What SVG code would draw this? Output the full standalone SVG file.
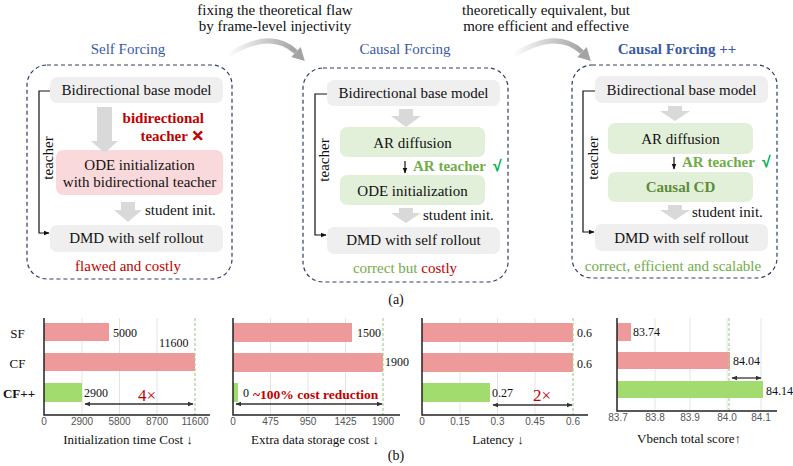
<svg xmlns="http://www.w3.org/2000/svg" width="793" height="466" viewBox="0 0 793 466" font-family="'Liberation Serif', 'Times New Roman', Times, serif">
<style>
text{fill:#111}
.t15{font-size:15px}
.mid{text-anchor:middle}
.title{font-size:15px;fill:#3b5aa5;text-anchor:middle}
.dash{fill:none;stroke:#2e3c6a;stroke-width:1.2;stroke-dasharray:4 3}
.gbox{fill:#efefef}
.grn{fill:#e2f0d9}
.pink{fill:#f9d9dc}
.red{fill:#c00000}
.gtxt{fill:#70ad47}
.chk{fill:#00b050;stroke:#00b050;stroke-width:0.6}
.blk{fill:#d9d9d9}
.tline{fill:none;stroke:#111;stroke-width:1.2}
.grid{stroke:#e4e4e4;stroke-width:1}
.axis{stroke:#222;stroke-width:1.5;fill:none}
.barp{fill:#ef9a9a}
.barg{fill:#a2dc6e}
.gd{stroke:#a9d18e;stroke-width:1.2;stroke-dasharray:3 2}
.tick{font-size:10px;fill:#555;text-anchor:middle}
.val{font-size:12px}
.ax{font-size:13px;text-anchor:middle}
.dbl{stroke:#333;stroke-width:1.3;marker-start:url(#ah);marker-end:url(#ah)}
</style>
<defs>
<marker id="ah" viewBox="0 0 10 10" refX="9" refY="5" markerWidth="6" markerHeight="6" orient="auto-start-reverse" markerUnits="userSpaceOnUse"><path d="M0,1 L10,5 L0,9 z" fill="#333"/></marker>
<marker id="ta" viewBox="0 0 10 10" refX="9" refY="5" markerWidth="6" markerHeight="6" orient="auto" markerUnits="userSpaceOnUse"><path d="M0,1 L10,5 L0,9 z" fill="#111"/></marker>
<linearGradient id="cg" x1="0" y1="0" x2="1" y2="0"><stop offset="0" stop-color="#ffffff"/><stop offset="1" stop-color="#a3a3a3"/></linearGradient>
</defs>

<!-- top captions -->
<g id="caption1"><text class="t15 mid" x="275" y="15">fixing the theoretical flaw</text><text class="t15 mid" x="275" y="31">by frame-level injectivity</text></g>
<g id="caption2"><text class="t15 mid" x="546" y="15">theoretically equivalent, but</text><text class="t15 mid" x="546" y="31">more efficient and effective</text></g>

<!-- panel 1 -->
<g id="self-forcing">
<text class="title" x="128" y="54">Self Forcing</text>
<rect class="dash" x="27" y="65" width="205" height="214" rx="20"/>
<g id="sf-base"><rect class="gbox" x="50" y="77" width="173" height="26" rx="7"/><text class="t15 mid" x="136.5" y="95">Bidirectional base model</text></g>
<text class="t15 red" x="204" y="123" text-anchor="end" font-weight="bold">bidirectional</text>
<text class="t15 red" x="204" y="141" text-anchor="end" font-weight="bold">teacher <tspan font-family="'DejaVu Sans', sans-serif" font-size="15" style="stroke:#c00000;stroke-width:0.9">✕</tspan></text>
<g id="sf-ode"><rect class="pink" x="56" y="150" width="167" height="45" rx="7"/><text class="t15 mid" x="139.5" y="170">ODE initialization</text><text class="t15 mid" x="139.5" y="187">with bidirectional teacher</text></g>
<text class="t15" x="145" y="215">student init.</text>
<g id="sf-dmd"><rect class="gbox" x="50" y="225" width="173" height="27" rx="7"/><text class="t15 mid" x="136.5" y="243">DMD with self rollout</text></g>
<text class="t15 mid red" x="128" y="271">flawed and costly</text>
<text class="t15 mid" transform="translate(53,158) rotate(-90)">teacher</text>
</g>

<!-- panel 2 -->
<g id="causal-forcing">
<text class="title" x="405" y="54">Causal Forcing</text>
<rect class="dash" x="303" y="68" width="205" height="214" rx="20"/>
<g id="cf-base"><rect class="gbox" x="327" y="80" width="173" height="26" rx="7"/><text class="t15 mid" x="413.5" y="98">Bidirectional base model</text></g>
<g id="cf-ar"><rect class="grn" x="340" y="127" width="145" height="30" rx="7"/><text class="t15 mid" x="412.5" y="148">AR diffusion</text></g>
<text class="t15 gtxt" x="413" y="171" font-weight="bold">AR teacher</text><text class="t15 chk" x="493" y="171" font-size="16">√</text>
<g id="cf-ode"><rect class="grn" x="340" y="175" width="145" height="30" rx="7"/><text class="t15 mid" x="412.5" y="196">ODE initialization</text></g>
<text class="t15" x="423" y="220">student init.</text>
<g id="cf-dmd"><rect class="gbox" x="327" y="227" width="173" height="27" rx="7"/><text class="t15 mid" x="413.5" y="245">DMD with self rollout</text></g>
<text class="t15 mid" x="405" y="273"><tspan class="gtxt">correct but </tspan><tspan class="red">costly</tspan></text>
<text class="t15 mid" transform="translate(329,160) rotate(-90)">teacher</text>
</g>

<!-- panel 3 -->
<g id="causal-forcing-pp">
<text class="title" x="677" y="54" font-weight="bold">Causal Forcing ++</text>
<rect class="dash" x="572" y="65" width="205" height="213" rx="20"/>
<g id="cfp-base"><rect class="gbox" x="595" y="76" width="173" height="27" rx="7"/><text class="t15 mid" x="681.5" y="95">Bidirectional base model</text></g>
<g id="cfp-ar"><rect class="grn" x="608" y="123" width="145" height="31" rx="7"/><text class="t15 mid" x="680.5" y="144">AR diffusion</text></g>
<text class="t15 gtxt" x="682" y="167" font-weight="bold">AR teacher</text><text class="t15 chk" x="762" y="167" font-size="16">√</text>
<g id="cfp-cd"><rect class="grn" x="608" y="172" width="145" height="30" rx="7"/><text class="t15 mid" x="680.5" y="192" font-weight="bold" style="fill:#5b8c3a">Causal CD</text></g>
<text class="t15" x="692" y="217">student init.</text>
<g id="cfp-dmd"><rect class="gbox" x="595" y="224" width="173" height="27" rx="7"/><text class="t15 mid" x="681.5" y="243">DMD with self rollout</text></g>
<text class="t15 mid gtxt" x="673" y="271">correct, efficient and scalable</text>
<text class="t15 mid" transform="translate(598,158) rotate(-90)">teacher</text>
</g>

<!-- connectors -->
<g id="connectors">
<path d="M227,56 Q270,28 296,52" fill="none" stroke="url(#cg)" stroke-width="5"/>
<polygon points="304.8,61 291.3,57.1 300.7,46.9" fill="#a3a3a3"/>
<path d="M513,56 Q556,28 582,52" fill="none" stroke="url(#cg)" stroke-width="5"/>
<polygon points="590.8,61 577.3,57.1 586.7,46.9" fill="#a3a3a3"/>
<polygon class="blk" points="97,107 112,107 112,141 118,141 104.5,153 91,141 97,141"/>
<polygon class="blk" points="121,202 135,202 135,210 142,210 128,222 114,210 121,210"/>
<polygon class="blk" points="399,109 413,109 413,116 421,116 406,127 391,116 399,116"/>
<polygon class="blk" points="399,208 413,208 413,213 421,213 406,223 391,213 399,213"/>
<polygon class="blk" points="668,106 682,106 682,111 690,111 675,121 660,111 668,111"/>
<polygon class="blk" points="668,205 682,205 682,210 690,210 675,220 660,210 668,210"/>
<line x1="405" y1="161" x2="405" y2="173" stroke="#111" stroke-width="1.2" marker-end="url(#ta)"/>
<line x1="674" y1="157" x2="674" y2="169" stroke="#111" stroke-width="1.2" marker-end="url(#ta)"/>
<path class="tline" d="M50,91 H39 V233 H49" marker-end="url(#ta)"/>
<path class="tline" d="M327,94 H315 V235 H326" marker-end="url(#ta)"/>
<path class="tline" d="M595,91 H583 V232 H594" marker-end="url(#ta)"/>
</g>

<text class="mid" x="396" y="304" font-size="14">(a)</text>

<!-- chart 1 -->
<g id="chart-init">
<g class="grid"><line x1="82" y1="318" x2="82" y2="415"/><line x1="119.5" y1="318" x2="119.5" y2="415"/><line x1="157" y1="318" x2="157" y2="415"/></g>
<rect class="barp" x="44" y="323" width="65" height="18"/>
<rect class="barp" x="44" y="353" width="151" height="18"/>
<rect class="barg" x="44" y="383" width="38" height="19"/>
<line class="gd" x1="195" y1="318" x2="195" y2="415"/>
<path class="axis" d="M44,318 V415 H210"/>
<g font-family="'Liberation Sans', Arial, sans-serif"><text class="tick" x="44" y="425">0</text><text class="tick" x="82" y="425">2900</text><text class="tick" x="119.5" y="425">5800</text><text class="tick" x="157" y="425">8700</text><text class="tick" x="195" y="425">11600</text></g>
<text class="val" x="113" y="337">5000</text><text class="val" x="159" y="347">11600</text><text class="val" x="84" y="397">2900</text>
<text class="red" x="138" y="401" font-size="17">4×</text>
<line class="dbl" x1="85" y1="404" x2="193" y2="404"/>
<text class="mid" x="17.5" y="338" font-size="13">SF</text>
<text class="mid" x="17.5" y="368" font-size="13">CF</text>
<text class="mid" x="19" y="398" font-size="13" font-weight="bold">CF++</text>
<text class="ax" x="128" y="444">Initialization time Cost ↓</text>
</g>

<!-- chart 2 -->
<g id="chart-storage">
<g class="grid"><line x1="270.5" y1="318" x2="270.5" y2="415"/><line x1="308" y1="318" x2="308" y2="415"/><line x1="345.5" y1="318" x2="345.5" y2="415"/></g>
<rect class="barp" x="233" y="323" width="119" height="19"/>
<rect class="barp" x="233" y="353" width="150" height="19"/>
<rect class="barg" x="233" y="383" width="5" height="19"/>
<line class="gd" x1="383" y1="318" x2="383" y2="415"/>
<path class="axis" d="M233,318 V415 H400"/>
<g font-family="'Liberation Sans', Arial, sans-serif"><text class="tick" x="233" y="425">0</text><text class="tick" x="270.5" y="425">475</text><text class="tick" x="308" y="425">950</text><text class="tick" x="345.5" y="425">1425</text><text class="tick" x="383" y="425">1900</text></g>
<text class="val" x="357" y="337">1500</text><text class="val" x="385" y="366">1900</text><text class="val" x="243" y="397">0</text>
<text class="red" x="253" y="398.5" font-size="13.5" font-weight="bold">~100% cost reduction</text>
<line class="dbl" x1="236" y1="404" x2="382" y2="404"/>
<text class="ax" x="315" y="444">Extra data storage cost ↓</text>
</g>

<!-- chart 3 -->
<g id="chart-latency">
<g class="grid"><line x1="460" y1="318" x2="460" y2="415"/><line x1="497.5" y1="318" x2="497.5" y2="415"/><line x1="535" y1="318" x2="535" y2="415"/></g>
<rect class="barp" x="422" y="323" width="151" height="19"/>
<rect class="barp" x="422" y="353" width="151" height="19"/>
<rect class="barg" x="422" y="383" width="68" height="19"/>
<line class="gd" x1="573" y1="318" x2="573" y2="415"/>
<path class="axis" d="M422,318 V415 H588"/>
<g font-family="'Liberation Sans', Arial, sans-serif"><text class="tick" x="422" y="425">0</text><text class="tick" x="460" y="425">0.15</text><text class="tick" x="497.5" y="425">0.3</text><text class="tick" x="535" y="425">0.45</text><text class="tick" x="573" y="425">0.6</text></g>
<text class="val" x="577" y="337">0.6</text><text class="val" x="577" y="368">0.6</text><text class="val" x="492" y="397">0.27</text>
<text class="red" x="533" y="401" font-size="17">2×</text>
<line class="dbl" x1="493" y1="405" x2="572" y2="405"/>
<text class="ax" x="498" y="444">Latency ↓</text>
</g>

<!-- chart 4 -->
<g id="chart-vbench">
<g class="grid"><line x1="655" y1="318" x2="655" y2="411"/><line x1="690" y1="318" x2="690" y2="411"/><line x1="727" y1="318" x2="727" y2="411"/><line x1="761" y1="318" x2="761" y2="411"/></g>
<rect class="barp" x="617" y="323" width="14" height="18"/>
<rect class="barp" x="617" y="352" width="113" height="17"/>
<rect class="barg" x="617" y="381" width="146" height="17"/>
<line class="gd" x1="729" y1="318" x2="729" y2="411"/>
<path class="axis" d="M617,318 V411 H777"/>
<g font-family="'Liberation Sans', Arial, sans-serif"><text class="tick" x="618" y="421">83.7</text><text class="tick" x="655" y="421">83.8</text><text class="tick" x="690" y="421">83.9</text><text class="tick" x="727" y="421">84.0</text><text class="tick" x="761" y="421">84.1</text></g>
<text class="val" x="633" y="336">83.74</text><text class="val" x="733" y="365">84.04</text><text class="val" x="766" y="395">84.14</text>
<line class="dbl" x1="732" y1="378" x2="761" y2="378"/>
<text class="ax" x="689" y="443">Vbench total score↑</text>
</g>

<text class="mid" x="396" y="460" font-size="14">(b)</text>
</svg>
